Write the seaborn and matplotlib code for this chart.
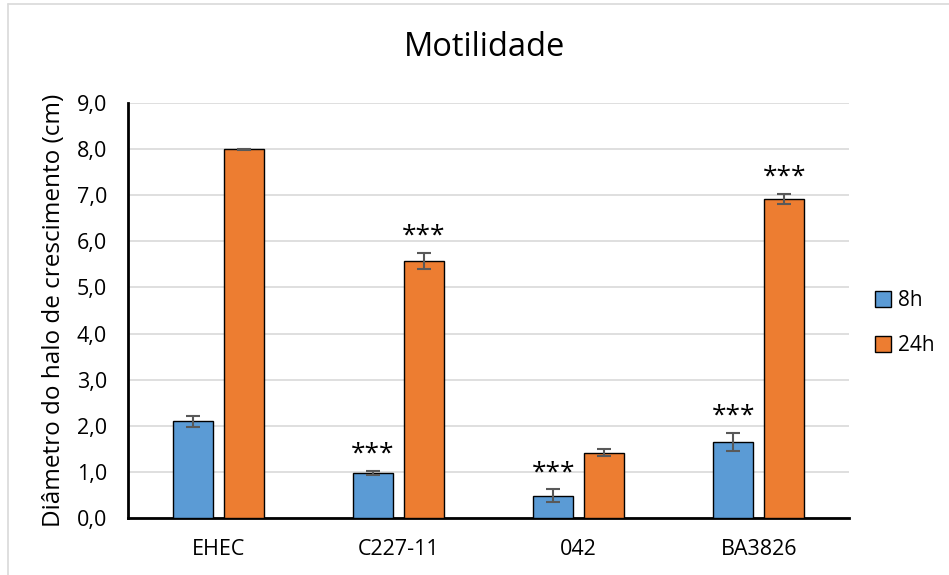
import matplotlib
matplotlib.use('Agg')
import matplotlib.pyplot as plt
import pandas as pd
import seaborn as sns
from matplotlib.lines import Line2D
from matplotlib.ticker import FuncFormatter, MultipleLocator

strains = ['EHEC', 'C227-11', '042', 'BA3826']
times = ['8h', '24h']
mean_8h = [2.10, 0.98, 0.48, 1.65]
mean_24h = [8.00, 5.57, 1.42, 6.92]
err_8h = [0.12, 0.05, 0.14, 0.19]
err_24h = [0.01, 0.18, 0.08, 0.11]
stars_8h = ['', '***', '***', '***']
stars_24h = ['', '***', '', '***']

colors = ['#5B9BD5', '#ED7D31']

df = pd.DataFrame({
    'strain': strains * 2,
    'time': [times[0]] * 4 + [times[1]] * 4,
    'value': mean_8h + mean_24h,
    'err': err_8h + err_24h,
    'stars': stars_8h + stars_24h,
})

sns.set_style('white')
plt.rcParams['font.family'] = ['Open Sans', 'DejaVu Sans']
plt.rcParams['text.color'] = 'black'
plt.rcParams['axes.labelcolor'] = 'black'

fig = plt.figure(figsize=(9.49, 5.75), dpi=100)
W, H = 949, 575
ax = fig.add_axes([128 / W, (H - 518) / H, 721 / W, 415 / H])

sns.barplot(data=df, x='strain', y='value', hue='time', order=strains,
            hue_order=times, palette=colors, saturation=1, width=0.566, gap=0.216,
            edgecolor='black', linewidth=1, errorbar=None, legend=False,
            ax=ax, zorder=3)

# error bars and significance marks, placed on the bars seaborn drew
for container, t in zip(ax.containers, times):
    sub = df[df['time'] == t].set_index('strain').loc[strains]
    for bar, (_, row) in zip(container, sub.iterrows()):
        cx = bar.get_x() + bar.get_width() / 2
        ax.errorbar(cx, row['value'], yerr=row['err'], color='#595959',
                    elinewidth=1.5, capsize=5, capthick=1.5, zorder=4)
        if row['stars']:
            ax.annotate(row['stars'], (cx, row['value'] + row['err']),
                        xytext=(0, 3), textcoords='offset points',
                        ha='center', va='bottom', fontsize=19)

ax.set_ylim(0, 9)
ax.set_xlim(-0.5, 3.5)
ax.yaxis.set_major_locator(MultipleLocator(1))
ax.yaxis.set_major_formatter(FuncFormatter(lambda v, p: f'{v:.1f}'.replace('.', ',')))
ax.grid(axis='y', color='#D9D9D9', linewidth=1.2, zorder=0)
ax.set_axisbelow(True)
for s in ['top', 'right']:
    ax.spines[s].set_visible(False)
for s in ['left', 'bottom']:
    ax.spines[s].set_linewidth(2)
    ax.spines[s].set_color('black')
ax.tick_params(axis='y', length=0, labelsize=15.5, colors='black', pad=15)
ax.tick_params(axis='x', length=0, labelsize=15.5, colors='black', pad=15)
ax.set_xlabel('')
ax.set_ylabel('Diâmetro do halo de crescimento (cm)', fontsize=17.5, labelpad=8)

fig.text(485 / W, 1 - 48 / H, 'Motilidade', ha='center', va='center', fontsize=23.5)

handles = [Line2D([0], [0], marker='s', linestyle='none', markersize=11,
                  markerfacecolor=c, markeredgecolor='black', markeredgewidth=1)
           for c in colors]
fig.legend(handles, times, loc='center left', bbox_to_anchor=(864 / W, 1 - 323 / H),
           frameon=False, fontsize=15, handletextpad=0.25, labelspacing=1.15,
           handlelength=1.0, borderaxespad=0)

# chart-area border (top and left edges visible)
fig.add_artist(Line2D([8 / W, 1], [1 - 4 / H, 1 - 4 / H], color='#D9D9D9', linewidth=1.2))
fig.add_artist(Line2D([8 / W, 8 / W], [0, 1 - 4 / H], color='#D9D9D9', linewidth=1.2))

fig.savefig('out.png', dpi=100)
